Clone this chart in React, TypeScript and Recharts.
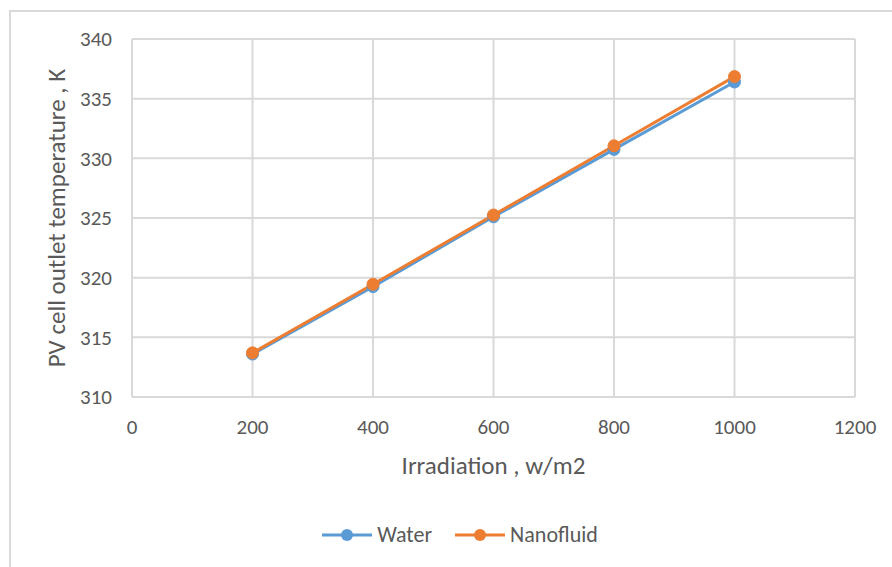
import React from "react";
import {
  LineChart,
  Line,
  XAxis,
  YAxis,
  CartesianGrid,
  Legend,
} from "recharts";

// Irradiation levels (w/m2)
const irradiation = [200, 400, 600, 800, 1000];
// PV cell outlet temperature (K) for each coolant
const water = [313.6, 319.25, 325.1, 330.75, 336.4];
const nanofluid = [313.7, 319.45, 325.25, 331.05, 336.85];

const xTicks = [0, 200, 400, 600, 800, 1000, 1200];
const yTicks = [310, 315, 320, 325, 330, 335, 340];

const seriesInfo = [
  { key: "water", name: "Water", color: "#5B9BD5" },
  { key: "nanofluid", name: "Nanofluid", color: "#ED7D31" },
];

const data = irradiation.map((x, i) => ({
  x,
  water: water[i],
  nanofluid: nanofluid[i],
}));

const FONT = "Carlito, Calibri, Lato, 'Liberation Sans', sans-serif";
const TEXT = "#595959";
const GRID = "#d9d9d9";

const LegendContent = () => (
  <div
    style={{
      display: "flex",
      justifyContent: "center",
      alignItems: "center",
      fontFamily: FONT,
      fontSize: 22,
      color: TEXT,
      paddingRight: 8,
    }}
  >
    {seriesInfo.map((s, i) => (
      <div
        key={s.key}
        style={{ display: "flex", alignItems: "center", marginLeft: i ? 22 : 0 }}
      >
        <svg width={52} height={14} style={{ marginRight: 4 }}>
          <line x1={1} y1={7} x2={51} y2={7} stroke={s.color} strokeWidth={3} />
          <circle cx={26} cy={7} r={6} fill={s.color} />
        </svg>
        <span>{s.name}</span>
      </div>
    ))}
  </div>
);

export default function App() {
  return (
    <div
      style={{
        position: "absolute",
        left: 0,
        top: 0,
        width: 892,
        height: 567,
        background: "#fff",
        overflow: "hidden",
      }}
    >
      <div
        style={{
          position: "absolute",
          left: 9,
          top: 10,
          width: 900,
          height: 600,
          border: "2px solid #d9d9d9",
        }}
      />
      <div style={{ position: "absolute", left: 0, top: 0 }}>
        <LineChart
          width={892}
          height={567}
          data={data}
          margin={{ top: 39, right: 37, left: 72, bottom: 16 }}
        >
          <CartesianGrid stroke={GRID} strokeWidth={2} />
          <XAxis
            dataKey="x"
            type="number"
            domain={[0, 1200]}
            ticks={xTicks}
            interval={0}
            axisLine={{ stroke: GRID, strokeWidth: 2 }}
            tickLine={false}
            tick={{ fill: TEXT, fontSize: 21, fontFamily: FONT }}
            tickMargin={16}
            height={127}
            label={{
              value: "Irradiation , w/m2",
              position: "insideTop",
              offset: 59,
              fill: TEXT,
              fontSize: 25,
              fontFamily: FONT,
            }}
          />
          <YAxis
            type="number"
            domain={[310, 340]}
            ticks={yTicks}
            interval={0}
            width={60}
            axisLine={{ stroke: GRID, strokeWidth: 2 }}
            tickLine={false}
            tick={{ fill: TEXT, fontSize: 21, fontFamily: FONT }}
            tickMargin={14}
            label={{
              value: "PV cell outlet temperature , K",
              angle: -90,
              position: "insideLeft",
              offset: -16,
              style: { textAnchor: "middle" },
              fill: TEXT,
              fontSize: 25,
              fontFamily: FONT,
            }}
          />
          <Legend verticalAlign="bottom" content={LegendContent} wrapperStyle={{ bottom: 19 }} />
          {seriesInfo.map((s) => (
            <Line
              key={s.key}
              dataKey={s.key}
              name={s.name}
              stroke={s.color}
              strokeWidth={3}
              dot={{ r: 6, fill: s.color, stroke: s.color, strokeWidth: 1 }}
              isAnimationActive={false}
            />
          ))}
        </LineChart>
      </div>
    </div>
  );
}
